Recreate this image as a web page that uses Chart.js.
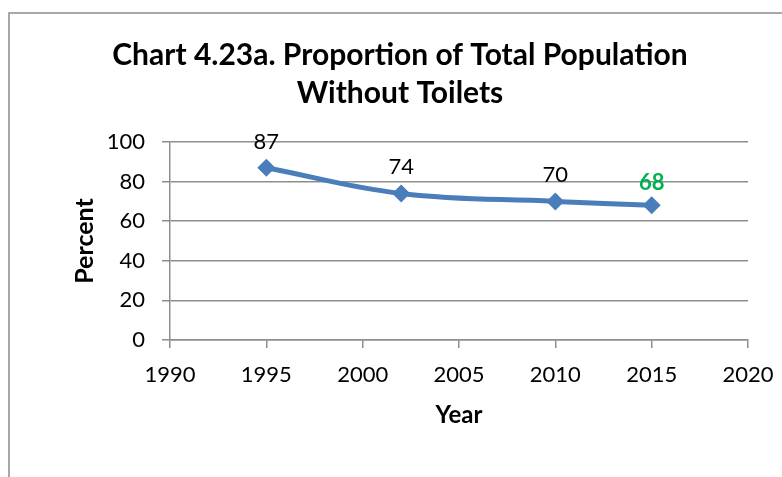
<!DOCTYPE html>
<html>
<head>
<meta charset="utf-8">
<script src="https://cdn.jsdelivr.net/npm/chart.js@4.4.1/dist/chart.umd.min.js"></script>
<style>
  html, body { margin: 0; padding: 0; background: #fff; overflow: hidden; }
  #wrap { width: 782px; height: 477px; position: relative; }
</style>
</head>
<body>
<div id="wrap"><canvas id="c"></canvas></div>
<script>
// Survey years and share of the population without toilets (%)
const years = [1995, 2002, 2010, 2015];
const percentWithoutToilets = [87, 74, 70, 68];
const xTickValues = [1990, 1995, 2000, 2005, 2010, 2015, 2020];
const yTickValues = [0, 20, 40, 60, 80, 100];
const titleLines = ['Chart 4.23a. Proportion of Total Population', 'Without Toilets'];
const xAxisTitle = 'Year';
const yAxisTitle = 'Percent';

const FONT = 'Lato';
const LINE_BLUE = 'rgb(74,126,187)';
const GRID_GREY = '#8e8e8e';
const HIGHLIGHT_GREEN = '#00b050';

// Outer frame around the whole chart object
const frame = {
  id: 'frame',
  beforeDraw(chart) {
    const ctx = chart.ctx;
    ctx.save();
    ctx.strokeStyle = '#8c8c8c';
    ctx.lineWidth = 1.5;
    ctx.strokeRect(9, 13, 820, 520);
    ctx.restore();
  }
};

// Value labels above each marker; the latest value is emphasised
const valueLabels = {
  id: 'valueLabels',
  afterDatasetsDraw(chart) {
    const meta = chart.getDatasetMeta(0);
    const ctx = chart.ctx;
    ctx.save();
    ctx.textAlign = 'center';
    ctx.textBaseline = 'alphabetic';
    meta.data.forEach((pt, i) => {
      const latest = i === percentWithoutToilets.length - 1;
      ctx.font = (latest ? 'bold ' : '') + '22px ' + FONT;
      ctx.fillStyle = latest ? HIGHLIGHT_GREEN : '#000';
      ctx.fillText(String(percentWithoutToilets[i]), pt.x, pt.y - (latest ? 15 : 19));
    });
    ctx.restore();
  }
};

new Chart(document.getElementById('c'), {
  type: 'line',
  data: {
    datasets: [{
      data: years.map((y, i) => ({ x: y, y: percentWithoutToilets[i] })),
      borderColor: LINE_BLUE,
      backgroundColor: LINE_BLUE,
      borderWidth: 5,
      tension: 0.4,
      pointStyle: 'rectRot',
      pointRadius: 9,
      pointHoverRadius: 9,
      pointBorderWidth: 0,
      pointBackgroundColor: LINE_BLUE,
      clip: false
    }]
  },
  options: {
    responsive: true,
    maintainAspectRatio: false,
    devicePixelRatio: 1,
    animation: false,
    events: [],
    layout: { padding: { left: 52, right: 34, top: 0, bottom: 47.3 } },
    plugins: {
      legend: { display: false },
      tooltip: { enabled: false },
      title: {
        display: true,
        text: titleLines,
        color: '#000',
        font: { family: FONT, size: 30, weight: 'bold', lineHeight: 38 / 30 },
        padding: { top: 36.3, bottom: 29.7 }
      }
    },
    scales: {
      x: {
        type: 'linear',
        min: xTickValues[0],
        max: xTickValues[xTickValues.length - 1],
        afterBuildTicks: s => { s.ticks = xTickValues.map(v => ({ value: v })); },
        afterFit: s => { s.height = 89.7; s.paddingLeft = 0; s.paddingRight = 0; },
        ticks: {
          color: '#000',
          font: { family: FONT, size: 22 },
          padding: 14,
          maxRotation: 0,
          autoSkip: false,
          callback: v => String(v)
        },
        grid: {
          drawOnChartArea: false,
          drawTicks: true,
          tickLength: 8,
          color: GRID_GREY,
          lineWidth: 1.5
        },
        border: { display: true, color: GRID_GREY, width: 1.5 },
        title: {
          display: true,
          text: xAxisTitle,
          color: '#000',
          font: { family: FONT, size: 24, weight: 'bold' },
          padding: 0
        }
      },
      y: {
        min: yTickValues[0],
        max: yTickValues[yTickValues.length - 1],
        afterBuildTicks: s => { s.ticks = yTickValues.map(v => ({ value: v })); },
        afterFit: s => { s.width = 118; s.paddingTop = 0; s.paddingBottom = 0; },
        ticks: {
          color: '#000',
          font: { family: FONT, size: 22 },
          padding: 17,
          callback: v => String(v)
        },
        grid: {
          drawTicks: true,
          tickLength: 8,
          color: GRID_GREY,
          lineWidth: 1.5
        },
        border: { display: true, color: GRID_GREY, width: 1.5 },
        title: {
          display: true,
          text: yAxisTitle,
          color: '#000',
          font: { family: FONT, size: 25, weight: 'bold' },
          padding: { top: 18, bottom: 0 }
        }
      }
    }
  },
  plugins: [frame, valueLabels]
});
</script>
</body>
</html>
